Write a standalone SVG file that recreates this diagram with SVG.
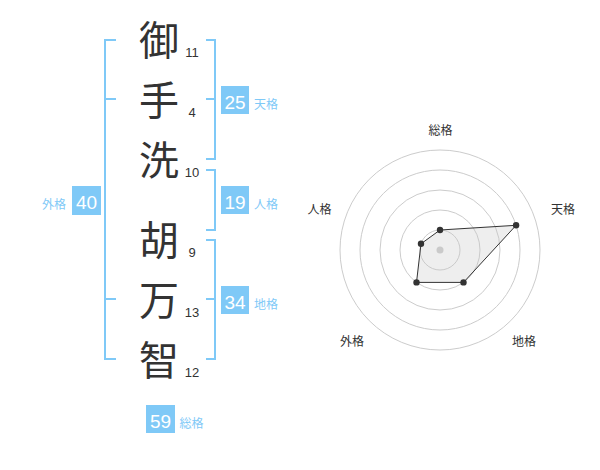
<svg xmlns="http://www.w3.org/2000/svg" width="600" height="470" viewBox="0 0 600 470">
<style>
.kanji{font-family:"Noto Sans CJK JP","Noto Sans CJK SC",sans-serif;font-size:40px;fill:#333;text-anchor:middle}
.num{font-family:"Liberation Sans",Arial,sans-serif;font-size:13px;fill:#333;text-anchor:middle}
.badge{fill:#7fc9f7}
.bnum{font-family:"Liberation Sans",Arial,sans-serif;font-size:19px;fill:#fff;text-anchor:middle}
.blabel{font-family:"Noto Sans CJK JP","Noto Sans CJK SC",sans-serif;font-size:12px;fill:#7fc9f7}
.br{fill:none;stroke:#7fc9f7;stroke-width:2}
.ring{fill:none;stroke:#ccc;stroke-width:1}
.rlabel{font-family:"Noto Sans CJK JP","Noto Sans CJK SC",sans-serif;font-size:12px;fill:#333;text-anchor:middle}
.dot{fill:#333}
</style>
<rect width="600" height="470" fill="#fff"/>
<g id="connectors">
<path class="br" d="M116,40 H105 V359 H116 M105,99 H116 M105,299 H116"/>
<path class="br" d="M206,40 H215 V159 H206 M206,99 H215"/>
<path class="br" d="M206,170 H215 V230 H206"/>
<path class="br" d="M206,240 H215 V359 H206 M206,299 H215"/>
</g>
<g id="char1"><text class="kanji" x="159" y="55">御</text><text class="num" x="192" y="57">11</text></g>
<g id="char2"><text class="kanji" x="159" y="115">手</text><text class="num" x="192" y="117">4</text></g>
<g id="char3"><text class="kanji" x="159" y="175">洗</text><text class="num" x="192" y="177">10</text></g>
<g id="char4"><text class="kanji" x="159" y="255">胡</text><text class="num" x="192" y="257">9</text></g>
<g id="char5"><text class="kanji" x="159" y="315">万</text><text class="num" x="192" y="317">13</text></g>
<g id="char6"><text class="kanji" x="159" y="375">智</text><text class="num" x="192" y="377">12</text></g>
<g id="tenkaku"><rect class="badge" x="221" y="86" width="28" height="28"/><text class="bnum" x="235" y="108.5">25</text><text class="blabel" x="254" y="108.5">天格</text></g>
<g id="jinkaku"><rect class="badge" x="221" y="186" width="28" height="28"/><text class="bnum" x="235" y="208.5">19</text><text class="blabel" x="254" y="208.5">人格</text></g>
<g id="chikaku"><rect class="badge" x="221" y="286" width="28" height="28"/><text class="bnum" x="235" y="308.5">34</text><text class="blabel" x="254" y="308.5">地格</text></g>
<g id="gaikaku"><rect class="badge" x="72" y="186" width="29" height="29"/><text class="bnum" x="86.5" y="208.5">40</text><text class="blabel" x="66" y="208.5" text-anchor="end">外格</text></g>
<g id="soukaku"><rect class="badge" x="146" y="405" width="29" height="28"/><text class="bnum" x="160.5" y="427.5">59</text><text class="blabel" x="179.5" y="427.5">総格</text></g>
<g id="radar">
<circle class="ring" cx="440" cy="250" r="20"/>
<circle class="ring" cx="440" cy="250" r="40"/>
<circle class="ring" cx="440" cy="250" r="60"/>
<circle class="ring" cx="440" cy="250" r="80"/>
<circle class="ring" cx="440" cy="250" r="100"/>
<circle cx="440" cy="250" r="3.5" fill="#ccc"/>
<polygon points="440,230 516.1,225.3 463.5,282.4 416.5,282.4 421,243.8" fill="#c8c8c8" fill-opacity="0.3" stroke="#333" stroke-width="1"/>
<circle class="dot" cx="440" cy="230" r="3.2"/>
<circle class="dot" cx="516.1" cy="225.3" r="3.2"/>
<circle class="dot" cx="463.5" cy="282.4" r="3.2"/>
<circle class="dot" cx="416.5" cy="282.4" r="3.2"/>
<circle class="dot" cx="421" cy="243.8" r="3.2"/>
<text class="rlabel" x="440.5" y="134.5">総格</text>
<text class="rlabel" x="563" y="213.5">天格</text>
<text class="rlabel" x="524" y="346">地格</text>
<text class="rlabel" x="352" y="346">外格</text>
<text class="rlabel" x="319.5" y="213.5">人格</text>
</g>
</svg>
